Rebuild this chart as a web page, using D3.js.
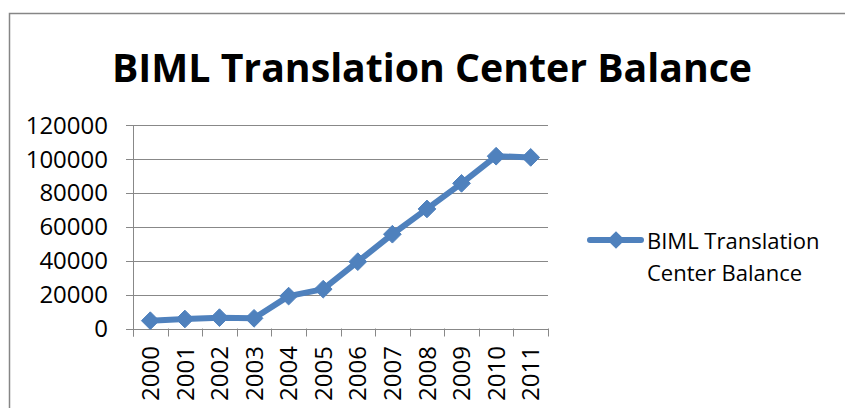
<!DOCTYPE html>
<html>
<head>
<script src="https://cdn.jsdelivr.net/npm/d3@7"></script>
<style>
  body { margin: 0; background: #fff; }
  text { font-family: "Open Sans", sans-serif; fill: #000; }
</style>
</head>
<body>
<svg id="chart" width="845" height="408"></svg>
<script>
// data
const years = ["2000","2001","2002","2003","2004","2005","2006","2007","2008","2009","2010","2011"];
const balance = [4600, 5600, 6400, 6000, 19100, 23200, 39400, 55600, 70500, 85600, 101600, 100900];
const yTicks = [0, 20000, 40000, 60000, 80000, 100000, 120000];
const seriesName = ["BIML Translation", "Center Balance"];

const svg = d3.select("#chart");
const blue = "#4f81bd";

// outer frame (only top and left show in the picture)
svg.append("path")
  .attr("d", "M9.5,408 V13.5 H845")
  .attr("fill", "none")
  .attr("stroke", "#868686")
  .attr("stroke-width", 1.5);

svg.append("text")
  .attr("x", 432).attr("y", 82)
  .attr("text-anchor", "middle")
  .attr("font-weight", "bold")
  .attr("font-size", 39)
  .attr("textLength", 640)
  .attr("lengthAdjust", "spacingAndGlyphs")
  .text("BIML Translation Center Balance");

let plot = {left: 133, right: 548, top: 125, bottom: 328.5};

let x = d3.scaleBand().domain(years).range([plot.left, plot.right]);
let y = d3.scaleLinear().domain([0, 120000]).range([plot.bottom, plot.top]);

// gridlines + y ticks
svg.append("g").selectAll("line")
  .data(yTicks)
  .join("line")
  .attr("x1", plot.left - 7).attr("x2", plot.right)
  .attr("y1", d => Math.round(y(d)) + 0.5).attr("y2", d => Math.round(y(d)) + 0.5)
  .attr("stroke", "#888").attr("stroke-width", 1);

svg.append("g").selectAll("text")
  .data(yTicks)
  .join("text")
  .attr("x", 108).attr("y", d => y(d))
  .attr("dy", "0.36em")
  .attr("text-anchor", "end")
  .attr("font-size", 24)
  .text(d => d);

// y axis line
svg.append("line")
  .attr("x1", plot.left + 0.5).attr("x2", plot.left + 0.5)
  .attr("y1", plot.top).attr("y2", plot.bottom + 8)
  .attr("stroke", "#888");

// x ticks at category boundaries
let bounds = years.map(d => x(d)).concat([plot.right]);
svg.append("g").selectAll("line")
  .data(bounds)
  .join("line")
  .attr("x1", d => Math.round(d) + 0.5).attr("x2", d => Math.round(d) + 0.5)
  .attr("y1", plot.bottom).attr("y2", plot.bottom + 8)
  .attr("stroke", "#888");

svg.append("g").selectAll("text")
  .data(years)
  .join("text")
  .attr("transform", d => `translate(${x(d) + x.bandwidth() / 2}, 346) rotate(-90)`)
  .attr("dy", "0.36em")
  .attr("text-anchor", "end")
  .attr("font-size", 24)
  .text(d => d);

// series line
let line = d3.line()
  .x((d, i) => x(years[i]) + x.bandwidth() / 2)
  .y(d => y(d));

svg.append("path")
  .datum(balance)
  .attr("d", line)
  .attr("fill", "none")
  .attr("stroke", blue)
  .attr("stroke-width", 6)
  .attr("stroke-linejoin", "round");

let diamond = d3.symbol().type(d3.symbolDiamond2).size(200);
svg.append("g").selectAll("path")
  .data(balance)
  .join("path")
  .attr("d", diamond)
  .attr("transform", (d, i) => `translate(${x(years[i]) + x.bandwidth() / 2}, ${y(d)})`)
  .attr("fill", blue)
  .attr("stroke", blue)
  .attr("stroke-width", 1)
  .attr("stroke-linejoin", "round");

// legend
let lg = svg.append("g");
lg.append("line")
  .attr("x1", 590).attr("x2", 641)
  .attr("y1", 240).attr("y2", 240)
  .attr("stroke", blue).attr("stroke-width", 6)
  .attr("stroke-linecap", "round");
lg.append("path")
  .attr("d", diamond)
  .attr("transform", "translate(616,240)")
  .attr("fill", blue);
lg.selectAll("text")
  .data(seriesName)
  .join("text")
  .attr("x", 647)
  .attr("y", (d, i) => 249 + i * 32)
  .attr("font-size", 22)
  .text(d => d);
</script>
</body>
</html>
